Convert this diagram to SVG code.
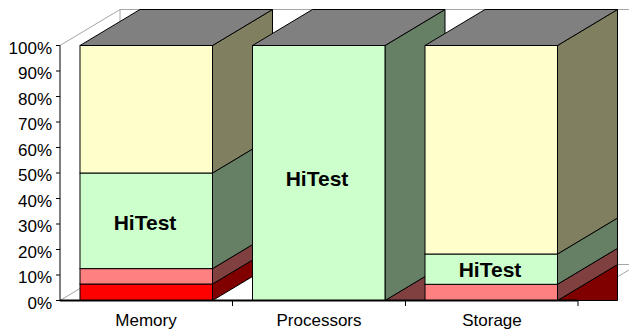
<svg xmlns="http://www.w3.org/2000/svg" width="629" height="331" viewBox="0 0 629 331">
<style>
.wall{fill:none;stroke:#A6A6A6;stroke-width:1}
.f{stroke:#000;stroke-width:1;stroke-linejoin:miter}
.yf{fill:#FFFFCC}.ys{fill:#808060}
.gf{fill:#CCFFCC}.gs{fill:#668066}
.pf{fill:#FF8080}.ps{fill:#804040}
.rf{fill:#FF0000}.rs{fill:#800000}
.top{fill:#808080}
.ax{stroke:#000;stroke-width:1;fill:none}
.tl{font-family:"Liberation Sans",Arial,sans-serif;font-size:17px;fill:#000;text-anchor:end}
.cl{font-family:"Liberation Sans",Arial,sans-serif;font-size:17px;fill:#000;text-anchor:middle}
.hl{font-family:"Liberation Sans",Arial,sans-serif;font-size:21px;font-weight:bold;fill:#000;text-anchor:middle}
</style>
<rect width="629" height="331" fill="#FFFFFF"/>
<g id="walls">
<polyline class="wall" points="60,45.5 120,9.5 638,9.5"/>
<line class="wall" x1="120" y1="9.5" x2="120" y2="264.5"/>
<polyline class="wall" points="60,300.5 120,264.5 638,264.5"/>
<line class="wall" x1="578" y1="300.5" x2="638" y2="264.5"/>
</g>
<g id="memory">
<polygon class="f rs" points="212.5,300.5 272.5,264.5 272.5,248 212.5,284"/>
<polygon class="f ps" points="212.5,284 272.5,248 272.5,232.6 212.5,268.6"/>
<polygon class="f gs" points="212.5,268.6 272.5,232.6 272.5,137 212.5,173"/>
<polygon class="f ys" points="212.5,173 272.5,137 272.5,9.5 212.5,45.5"/>
<polygon class="f top" points="80,45.5 212.5,45.5 272.5,9.5 140,9.5"/>
<rect class="f rf" x="80" y="284" width="132.5" height="16.5"/>
<rect class="f pf" x="80" y="268.6" width="132.5" height="15.4"/>
<rect class="f gf" x="80" y="173" width="132.5" height="95.6"/>
<rect class="f yf" x="80" y="45.5" width="132.5" height="127.5"/>
<text class="hl" x="145" y="230">HiTest</text>
</g>
<g id="processors">
<polygon class="f ps" points="385,300.5 445,264.5 445,300.5"/>
<polygon class="f gs" points="385,300.5 445,264.5 445,9.5 385,45.5"/>
<polygon class="f top" points="252.5,45.5 385,45.5 445,9.5 312.5,9.5"/>
<rect class="f gf" x="252.5" y="45.5" width="132.5" height="255"/>
<text class="hl" x="317" y="186">HiTest</text>
</g>
<g id="storage">
<polygon class="f rs" points="557.5,300.5 617.5,264.5 617.5,300.5"/>
<polygon class="f ps" points="557.5,300.5 617.5,264.5 617.5,248.3 557.5,284.3"/>
<polygon class="f gs" points="557.5,284.3 617.5,248.3 617.5,218 557.5,254"/>
<polygon class="f ys" points="557.5,254 617.5,218 617.5,9.5 557.5,45.5"/>
<polygon class="f top" points="425,45.5 557.5,45.5 617.5,9.5 485,9.5"/>
<rect class="f pf" x="425" y="284.3" width="132.5" height="16.2"/>
<rect class="f gf" x="425" y="254" width="132.5" height="30.3"/>
<rect class="f yf" x="425" y="45.5" width="132.5" height="208.5"/>
<text class="hl" x="490" y="277">HiTest</text>
</g>
<g id="axes">
<line class="ax" x1="60" y1="45.5" x2="60" y2="301"/>
<line x1="60" y1="300.5" x2="578" y2="300.5" stroke="#000" stroke-width="2"/>
<path class="ax" d="M56,45.5H60M56,71H60M56,96.5H60M56,122H60M56,147.5H60M56,173H60M56,198.5H60M56,224H60M56,249.5H60M56,275H60M56,300.5H60"/>
<path class="ax" d="M232.5,300.5V306M405.5,300.5V306M578,300.5V306"/>
</g>
<g id="labels">
<text class="tl" x="52" y="53.5">100%</text>
<text class="tl" x="52" y="79">90%</text>
<text class="tl" x="52" y="104.5">80%</text>
<text class="tl" x="52" y="130">70%</text>
<text class="tl" x="52" y="155.5">60%</text>
<text class="tl" x="52" y="181">50%</text>
<text class="tl" x="52" y="206.5">40%</text>
<text class="tl" x="52" y="232">30%</text>
<text class="tl" x="52" y="257.5">20%</text>
<text class="tl" x="52" y="283">10%</text>
<text class="tl" x="52" y="308.5">0%</text>
<text class="cl" x="146" y="326">Memory</text>
<text class="cl" x="319" y="326">Processors</text>
<text class="cl" x="492" y="326">Storage</text>
</g>
</svg>
